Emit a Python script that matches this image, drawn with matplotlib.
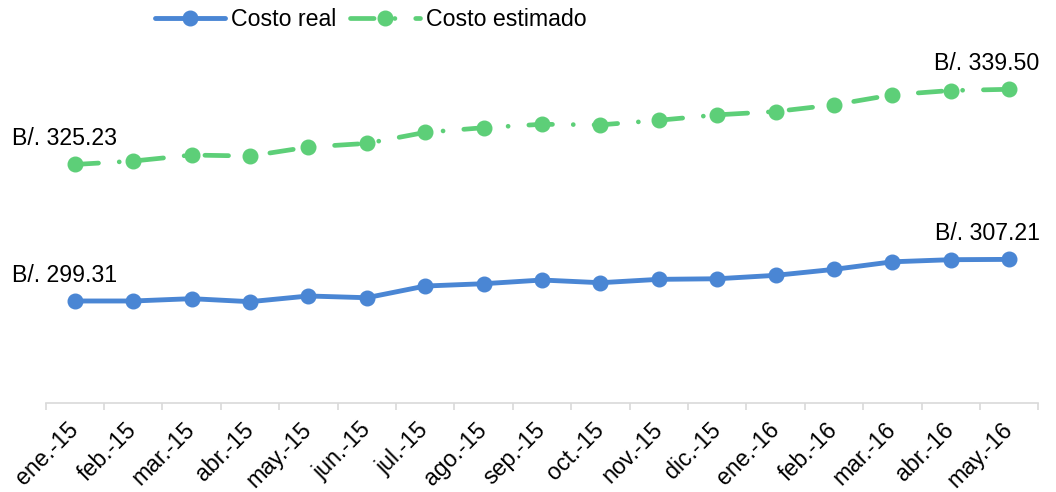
import matplotlib
matplotlib.use("Agg")
import matplotlib.pyplot as plt
from matplotlib.lines import Line2D

plt.rcParams['font.family'] = ['Liberation Sans', 'DejaVu Sans']

months = ["ene.-15", "feb.-15", "mar.-15", "abr.-15", "may.-15", "jun.-15",
          "jul.-15", "ago.-15", "sep.-15", "oct.-15", "nov.-15", "dic.-15",
          "ene.-16", "feb.-16", "mar.-16", "abr.-16", "may.-16"]
costo_real = [299.31, 299.31, 299.75, 299.18, 300.26, 299.93, 302.15, 302.59,
              303.29, 302.78, 303.42, 303.53, 304.18, 305.31, 306.75, 307.15, 307.21]
costo_estimado = [325.23, 325.88, 327.02, 326.83, 328.54, 329.23, 331.32, 332.21,
                  332.86, 332.75, 333.62, 334.65, 335.28, 336.55, 338.45, 339.27, 339.50]

BLUE = "#4A86D4"
GREEN = "#5DCF78"
FS = 16.7

fig = plt.figure(figsize=(10.56, 4.92), dpi=100)
ax = fig.add_axes([45.7/1056, 1-402.7/492, (1038.3-45.7)/1056, 368.7/492])

x = list(range(len(months)))
ax.plot(x, costo_real, color=BLUE, lw=3.5, marker='o', ms=10.5,
        solid_capstyle='round', solid_joinstyle='round', label="Costo real", zorder=3)
est_ls = (0, (5, 4.4, 0.01, 4.4))
ax.plot(x, costo_estimado, color=GREEN, lw=3.4, marker='o', ms=10.5,
        linestyle=est_ls, dash_capstyle='round', label="Costo estimado", zorder=3)

ax.set_xlim(-0.5, len(months) - 0.5)
ax.set_ylim(280, 350)

for s in ['top', 'right', 'left']:
    ax.spines[s].set_visible(False)
ax.spines['bottom'].set_color('#D9D9D9')
ax.spines['bottom'].set_linewidth(1.2)
ax.set_yticks([])

ax.set_xticks(x)
ax.set_xticklabels(months, rotation=45, ha='right', va='center',
                   rotation_mode='anchor', fontsize=FS)
ax.tick_params(axis='x', which='major', length=0, pad=17)
ax.set_xticks([i - 0.5 for i in range(len(months) + 1)], minor=True)
ax.tick_params(axis='x', which='minor', length=5, width=1.2, color='#D9D9D9')

def label(i, vals, dx):
    ax.annotate(f"B/. {vals[i]:.2f}", (x[i], vals[i]), xytext=(dx, 19),
                textcoords='offset pixels', ha='center', va='baseline',
                fontsize=FS, color='black')

label(0, costo_real, -10)
label(0, costo_estimado, -10)
label(len(months) - 1, costo_real, -22)
label(len(months) - 1, costo_estimado, -22)

handles = [
    Line2D([], [], color=BLUE, lw=3.5, marker='o', ms=10.5, solid_capstyle='round'),
    Line2D([], [], color=GREEN, lw=3.4, marker='o', ms=10.5, linestyle=est_ls,
           dash_capstyle='round'),
]
fig.legend(handles, ["Costo real", "Costo estimado"], loc='center',
           bbox_to_anchor=(371/1056, 1-20/492), ncol=2, frameon=False,
           fontsize=FS, handlelength=3.0, handletextpad=0.28, columnspacing=0.6,
           borderaxespad=0, borderpad=0)

fig.savefig("out.png", dpi=100)
